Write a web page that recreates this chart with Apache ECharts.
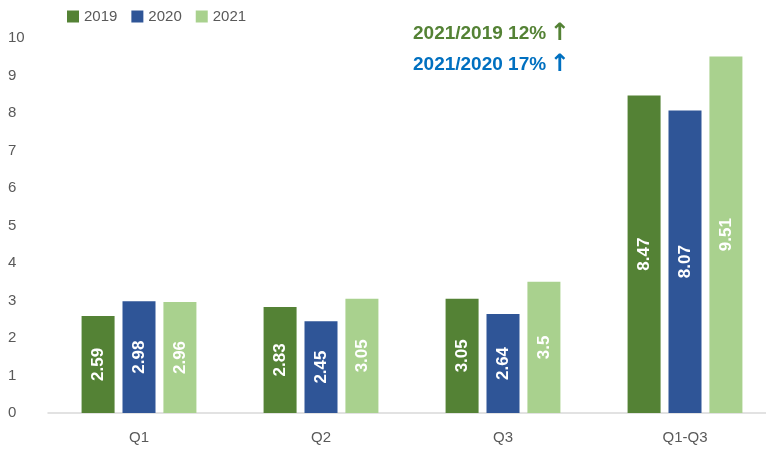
<!DOCTYPE html>
<html>
<head>
<meta charset="utf-8">
<script src="https://cdn.jsdelivr.net/npm/echarts@6/dist/echarts.min.js"></script>
<style>
  html, body { margin: 0; padding: 0; background: #fff; }
  #chart { width: 766px; height: 453px; }
</style>
</head>
<body>
<div id="chart"></div>
<script>
const categories = ['Q1', 'Q2', 'Q3', 'Q1-Q3'];
const years = ['2019', '2020', '2021'];
const values2019 = [2.59, 2.83, 3.05, 8.47];
const values2020 = [2.98, 2.45, 2.64, 8.07];
const values2021 = [2.96, 3.05, 3.5, 9.51];
const colors = ['#548235', '#2F5597', '#A9D18E'];
const note1 = '2021/2019 12%';
const note2 = '2021/2020 17%';

const font = '"Liberation Sans", Arial, sans-serif';
const chart = echarts.init(document.getElementById('chart'));

const labelOption = {
  show: true,
  position: 'inside',
  rotate: 90,
  color: '#fff',
  fontWeight: 'bold',
  fontSize: 17,
  fontFamily: font,
  formatter: p => p.value
};

const seriesData = [values2019, values2020, values2021];

const noteText = (txt, color, top) => ({
  type: 'text', left: 413, top: top,
  style: {
    text: '{t|' + txt + '} {a|↑}',
    rich: {
      t: { fill: color, font: 'bold 19px ' + font },
      a: { fill: color, font: 'bold 24px "DejaVu Sans", sans-serif' }
    }
  }
});

const option = {
  animation: false,
  color: colors,
  textStyle: { fontFamily: font },
  legend: {
    data: years,
    left: 62,
    top: 4,
    itemWidth: 12,
    itemHeight: 12,
    itemGap: 14,
    icon: 'rect',
    textStyle: { color: '#595959', fontSize: 15, fontFamily: font }
  },
  grid: { left: 48, width: 728, top: 38, bottom: 40, outerBoundsMode: 'none', containLabel: false },
  xAxis: {
    type: 'category',
    data: categories,
    axisTick: { show: false },
    axisLine: { lineStyle: { color: '#D9D9D9', width: 1.5 } },
    axisLabel: { color: '#595959', fontSize: 15, margin: 17, fontFamily: font }
  },
  yAxis: {
    type: 'value',
    min: 0,
    max: 10,
    interval: 1,
    splitLine: { show: false },
    axisLabel: { color: '#595959', fontSize: 15, margin: 0, align: 'left',
      formatter: v => v },
    offset: 40
  },
  series: seriesData.map((d, i) => ({
    name: years[i],
    type: 'bar',
    data: d,
    barWidth: 33,
    barGap: '24%',
    itemStyle: { color: colors[i] },
    label: labelOption
  })),
  graphic: [
    noteText(note1, '#548235', 22),
    noteText(note2, '#0070C0', 53)
  ]
};

chart.setOption(option);
</script>
</body>
</html>
